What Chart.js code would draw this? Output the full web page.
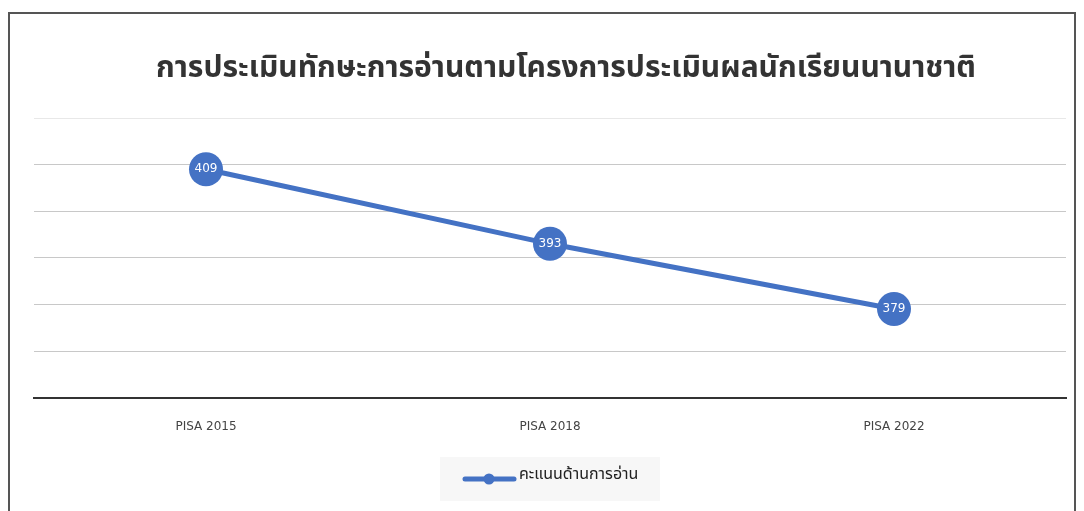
<!DOCTYPE html>
<html>
<head>
<meta charset="utf-8">
<script src="https://cdn.jsdelivr.net/npm/chart.js@4"></script>
<style>
  html, body { margin: 0; background: #fff; overflow: hidden; }
  #frame {
    position: absolute; left: 8px; top: 12px; width: 1064px; height: 497px;
    border: 2px solid #555; border-bottom: none; background: #fff;
  }
  #wrap { position: relative; width: 1064px; height: 497px; }
</style>
</head>
<body>
<div id="frame"><div id="wrap"><canvas id="chart"></canvas></div></div>
<script>
// chart data
const categories = ['PISA 2015', 'PISA 2018', 'PISA 2022'];
const readingScores = [409, 393, 379];
const seriesName = 'คะแนนด้านการอ่าน';
const chartTitle = 'การประเมินทักษะการอ่านตามโครงการประเมินผลนักเรียนนานาชาติ';

const blue = '#4472c4';
const thaiFont = '"Noto Sans Thai", "Noto Sans", "DejaVu Sans", sans-serif';
const latinFont = '"DejaVu Sans", sans-serif';

// title, drawn a bit right of the plot centre like the original
const titleText = {
    id: 'titleText',
    afterDraw(chart) {
        const ctx = chart.ctx;
        const area = chart.chartArea;
        ctx.save();
        ctx.fillStyle = '#333';
        ctx.font = 'bold 30px ' + thaiFont;
        ctx.textAlign = 'center';
        ctx.textBaseline = 'middle';
        ctx.fillText(chartTitle, (area.left + area.right) / 2 + 16, 57);
        ctx.restore();
    }
};

// white value labels inside the markers
const pointLabels = {
    id: 'pointLabels',
    afterDatasetsDraw(chart) {
        const ctx = chart.ctx;
        const meta = chart.getDatasetMeta(0);
        ctx.save();
        ctx.fillStyle = '#fff';
        ctx.font = '12px ' + latinFont;
        ctx.textAlign = 'center';
        ctx.textBaseline = 'middle';
        meta.data.forEach((pt, i) => {
            ctx.fillText(String(chart.data.datasets[0].data[i]), pt.x, pt.y);
        });
        ctx.restore();
    }
};

// legend with grey box under the chart
const boxLegend = {
    id: 'boxLegend',
    afterDraw(chart) {
        const ctx = chart.ctx;
        const area = chart.chartArea;
        const cx = (area.left + area.right) / 2;
        const top = 443, h = 44, w = 220;
        const x0 = cx - w / 2;
        ctx.save();
        ctx.fillStyle = '#f7f7f7';
        ctx.fillRect(x0, top, w, h);
        const ly = top + 22;
        ctx.strokeStyle = blue;
        ctx.lineWidth = 5;
        ctx.lineCap = 'round';
        ctx.beginPath();
        ctx.moveTo(x0 + 25, ly);
        ctx.lineTo(x0 + 74, ly);
        ctx.stroke();
        ctx.fillStyle = blue;
        ctx.beginPath();
        ctx.arc(x0 + 49, ly, 5.5, 0, Math.PI * 2);
        ctx.fill();
        ctx.fillStyle = '#222';
        ctx.font = '16px ' + thaiFont;
        ctx.textAlign = 'left';
        ctx.textBaseline = 'middle';
        ctx.fillText(chart.data.datasets[0].label, x0 + 79, ly - 3);
        ctx.restore();
    }
};

new Chart(document.getElementById('chart'), {
    type: 'line',
    data: {
        labels: categories,
        datasets: [{
            label: seriesName,
            data: readingScores,
            borderColor: blue,
            backgroundColor: blue,
            borderWidth: 5,
            pointRadius: 17,
            pointHoverRadius: 17,
            pointBorderWidth: 0,
            tension: 0
        }]
    },
    options: {
        responsive: true,
        maintainAspectRatio: false,
        animation: false,
        layout: { autoPadding: false, padding: { left: 24, right: 8, top: 104, bottom: 63 } },
        plugins: {
            legend: { display: false },
            tooltip: { enabled: false },
            title: { display: false }
        },
        scales: {
            x: {
                offset: true,
                grid: { display: false },
                border: { display: true, color: '#333', width: 2 },
                ticks: { color: '#444', font: { family: latinFont, size: 12 }, padding: 14 }
            },
            y: {
                min: 360,
                max: 420,
                ticks: { stepSize: 10, display: false },
                border: { display: false },
                grid: {
                    drawTicks: false,
                    color: ctx => ctx.tick.value === 420 ? '#e8e8e8' : '#c8c8c8',
                    lineWidth: 1
                }
            }
        }
    },
    plugins: [pointLabels, boxLegend, titleText]
});
</script>
</body>
</html>
